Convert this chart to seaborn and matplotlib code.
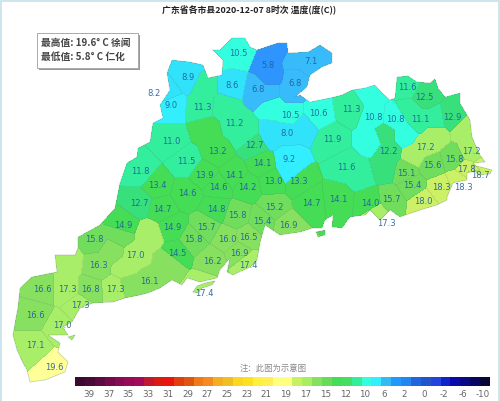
import numpy as np
import matplotlib
matplotlib.use('Agg')
import matplotlib.pyplot as plt
from matplotlib.colors import ListedColormap
from matplotlib.path import Path
from matplotlib.patches import Rectangle
import seaborn as sns

plt.rcParams['font.family'] = ['Noto Sans CJK SC', 'DejaVu Sans']

# valores de cada condado y donde va su etiqueta (pixeles del mapa)
valores = [10.5, 5.8, 7.1, 8.9, 8.6, 6.8, 6.8, 8.2, 9.0, 11.3, 11.2, 10.5, 10.6, 11.3, 10.8, 10.8,
           11.6, 12.5, 11.1, 12.9, 8.0, 12.7, 11.9, 12.2, 17.2, 17.2, 11.0, 11.5, 13.2, 9.2, 14.1,
           11.6, 15.8, 15.6, 15.1, 17.8, 18.7, 18.3, 18.3, 15.4, 18.0, 11.8, 13.4, 13.9, 14.1, 14.6,
           14.6, 14.2, 13.0, 13.3, 14.7, 14.1, 14.0, 15.7, 12.7, 14.7, 14.8, 15.8, 15.2, 15.4, 16.9,
           14.9, 14.9, 15.7, 15.8, 15.8, 16.0, 16.5, 14.5, 16.9, 16.2, 17.0, 16.3, 17.4, 16.1, 17.4,
           17.3, 16.6, 16.8, 17.3, 17.3, 17.3, 16.6, 17.0, 17.1, 19.6]
etiqueta_x = [238, 268, 311, 188, 232, 258, 295, 154, 171, 202, 234, 290, 318, 351, 373, 395,
              407, 424, 420, 452, 287, 254, 332, 388, 425, 471, 171, 186, 217, 289, 262,
              346, 454, 432, 406, 466, 480, 463, 441, 412, 423, 140, 157, 204, 234, 187,
              218, 247, 273, 298, 311, 338, 370, 391, 139, 162, 216, 237, 274, 262, 288,
              123, 172, 206, 94, 193, 227, 248, 177, 239, 212, 135, 98, 248, 149, 204,
              67, 42, 90, 115, 80, 386, 35, 62, 35, 54]
etiqueta_y = [54, 66, 62, 77, 85, 90, 83, 93, 106, 107, 124, 115, 114, 109, 117, 119,
              88, 97, 120, 117, 133, 146, 140, 151, 147, 151, 141, 162, 152, 159, 164,
              167, 159, 165, 173, 170, 176, 187, 188, 186, 202, 171, 186, 175, 175, 194,
              187, 187, 182, 182, 203, 200, 203, 200, 203, 209, 209, 216, 207, 221, 226,
              225, 228, 227, 240, 240, 239, 237, 253, 253, 261, 256, 266, 266, 282, 293,
              289, 289, 290, 289, 306, 224, 315, 325, 346, 367]
# etiquetas que quedan fuera de su condado: semilla movida
semillas_movidas = {7: (166, 93), 36: (482, 170), 37: (459, 180), 75: (204, 286),
                    73: (247, 263), 81: (376, 213), 83: (58, 328)}
# puntos extra para dar forma a los condados alargados
semillas_extra = {0: [(240, 42), (222, 55)], 1: [(278, 50), (270, 78)], 2: [(325, 55), (295, 58)],
                  3: [(190, 66)], 5: [(270, 92)], 6: [(290, 92)], 9: [(205, 85)],
                  10: [(225, 108), (245, 135)], 11: [(275, 107)], 14: [(372, 95), (372, 140)],
                  15: [(405, 135)], 18: [(435, 120), (410, 110)], 20: [(272, 135), (303, 127)],
                  23: [(385, 135), (385, 168)], 24: [(435, 135), (415, 155)], 25: [(465, 130)],
                  28: [(208, 130)], 29: [(290, 172)], 31: [(360, 175)], 64: [(120, 235)],
                  71: [(150, 235), (125, 268)], 72: [(112, 252)], 74: [(170, 262), (130, 285)],
                  76: [(68, 262)]}

# contorno de la provincia
contorno = [(213, 50), (220, 50), (232, 38), (245, 38), (250, 47), (257, 50), (278, 43), (287, 43), (288, 53),
            (308, 52), (320, 45), (332, 53), (332, 63), (322, 67), (310, 75), (307, 87), (295, 97), (300, 95),
            (310, 102), (330, 98), (342, 95), (352, 90), (365, 88), (375, 85), (382, 93), (390, 100), (395, 98),
            (397, 77), (408, 76), (417, 82), (430, 83), (435, 79), (438, 88), (445, 97), (460, 93), (460, 103),
            (470, 120), (472, 137), (480, 155), (485, 162), (473, 163), (480, 170), (467, 173), (467, 180),
            (453, 183), (447, 197), (447, 200), (437, 205), (420, 210), (400, 217), (390, 210), (380, 220),
            (370, 210), (365, 215), (350, 217), (342, 228), (332, 227), (333, 215), (325, 220), (322, 228),
            (313, 228), (300, 232), (280, 235), (265, 225), (260, 243), (257, 260), (250, 267), (233, 275),
            (227, 272), (230, 258), (220, 270), (217, 278), (200, 282), (187, 278), (182, 285), (172, 280),
            (160, 288), (148, 293), (140, 295), (125, 298), (113, 302), (93, 303), (80, 308), (72, 322),
            (63, 327), (68, 335), (48, 335), (60, 343), (58, 352), (68, 362), (65, 372), (45, 380), (30, 382),
            (27, 370), (23, 363), (17, 350), (13, 335), (15, 323), (18, 307), (20, 288), (32, 277), (57, 272),
            (55, 255), (75, 255), (78, 248), (78, 237), (100, 225), (115, 208), (120, 183), (127, 163),
            (137, 157), (138, 148), (150, 142), (153, 123), (163, 118), (160, 105), (170, 90), (167, 73),
            (172, 60), (190, 62), (203, 65), (208, 78), (222, 75), (223, 60)]
islas = [[(193, 292), (197, 286), (205, 283), (215, 281), (212, 285), (202, 288), (198, 293)],
         [(68, 337), (75, 335), (72, 340)],
         [(316, 232), (325, 230), (325, 235), (318, 237)],
         [(472, 165), (485, 168), (492, 170), (490, 174), (478, 175)]]

# escala de color del mapa
limites = [6, 8, 9, 10, 11, 12, 13, 15, 16, 17, 17.7, 19]
colores_mapa = ['#2e95ff', '#38bbfa', '#30e2fa', '#33eeff', '#33ffe0', '#33ee9c', '#38e07c', '#44dd55',
                '#70dd5c', '#88e060', '#a8ee68', '#ccf066', '#ffff99']

# leyenda
colores_barra = ['#3a0a30', '#4a0a38', '#5e0a42', '#720a4c', '#860a55', '#960a58', '#a40a58', '#c01830',
                 '#dc1a14', '#e81510', '#e04010', '#e05510', '#f07a18', '#f58a20', '#f5ae20', '#f0c020',
                 '#fad820', '#fde020', '#fff040', '#ffee55', '#ffff80', '#ffff80', '#c8f060', '#a8ee60',
                 '#88e060', '#66dd55', '#44dd55', '#44dd66', '#33ee99', '#33ffdd', '#33eeff', '#33bbee',
                 '#2299ff', '#2288ee', '#2266dd', '#2255cc', '#2244dd', '#1122cc', '#0a0aaa', '#080888',
                 '#060660', '#05053a']
ticks_barra = ['39', '37', '35', '33', '31', '29', '27', '25', '23', '21', '19',
               '17', '15', '12', '10', '6', '2', '0', '-2', '-6', '-10']

ancho, alto = 500, 401
fig = plt.figure(figsize=(5, 4.01), dpi=100, facecolor='white')
ax = fig.add_axes([0, 0, 1, 1])

# cada pixel toma el condado mas cercano, solo dentro del contorno
xx, yy = np.meshgrid(np.arange(ancho) + 0.5, np.arange(alto) + 0.5)
puntos = np.column_stack([xx.ravel(), yy.ravel()])
dentro = Path(contorno).contains_points(puntos)
for isla in islas:
    dentro |= Path(isla).contains_points(puntos)
dentro = dentro.reshape(alto, ancho)

sx = [float(x) for x in etiqueta_x]
sy = [float(y) for y in etiqueta_y]
duenos = list(range(len(valores)))
for i, (a, b) in semillas_movidas.items():
    sx[i], sy[i] = a, b
for i, extras in semillas_extra.items():
    for a, b in extras:
        sx.append(a)
        sy.append(b)
        duenos.append(i)
sx, sy, duenos = np.array(sx), np.array(sy), np.array(duenos)
dist = (xx[..., None] - sx) ** 2 + (yy[..., None] - sy) ** 2
condado = duenos[dist.argmin(axis=2)]
niveles = np.digitize(np.array(valores), limites)[condado]

sns.heatmap(niveles, mask=~dentro, cmap=ListedColormap(colores_mapa), vmin=-0.5, vmax=len(colores_mapa) - 0.5,
            cbar=False, xticklabels=False, yticklabels=False, ax=ax)

# lineas finas entre condados
borde = np.zeros_like(dentro)
borde[:-1, :] |= condado[:-1, :] != condado[1:, :]
borde[:, :-1] |= condado[:, :-1] != condado[:, 1:]
sns.heatmap(borde.astype(float), mask=~(borde & dentro), cmap=ListedColormap(['#607060']), alpha=0.13,
            cbar=False, xticklabels=False, yticklabels=False, ax=ax)

for parte in [contorno] + islas:
    xs, ys = zip(*(parte + parte[:1]))
    ax.plot(xs, ys, color='#70907a', lw=0.5, alpha=0.45)

for v, x, y in zip(valores, etiqueta_x, etiqueta_y):
    ax.text(x, y, f'{v:.1f}', fontsize=6, color='#1f5f9c', ha='center', va='center',
            family='DejaVu Sans', alpha=0.9)

ax.set_xlim(0, ancho)
ax.set_ylim(alto, 0)
ax.axis('off')

ax.text(249.5, 9, '广东省各市县2020-12-07 8时次 温度(度(C))', fontsize=6.4, fontweight='bold',
        color='#222222', ha='center', va='center')
ax.text(273, 368, '注：此图为示意图', fontsize=6, color='#888888', ha='center', va='center')

# cuadro de maximo y minimo
ax.add_patch(Rectangle((39, 35), 101, 35, fc='#999999', ec='none', zorder=4))
ax.add_patch(Rectangle((37, 33), 101, 35, fc='white', ec='#aaaaaa', lw=0.7, zorder=5))
ax.text(41, 43, '最高值: 19.6° C 徐闻', fontsize=7, fontweight='bold', color='#444444', va='center', zorder=6)
ax.text(41, 57, '最低值: 5.8° C 仁化', fontsize=7, fontweight='bold', color='#444444', va='center', zorder=6)

# marco azul claro
ax.add_patch(Rectangle((0, 0), 1.5, alto, fc='#cde6ee', ec='none'))
ax.add_patch(Rectangle((497.5, 0), 2.5, alto, fc='#cde6ee', ec='none'))
ax.add_patch(Rectangle((0, 0), ancho, 1.5, fc='#cde6ee', ec='none'))

cax = fig.add_axes([75 / ancho, 1 - 386 / alto, 415 / ancho, 9 / alto])
n = len(colores_barra)
sns.heatmap(np.arange(n)[None, :], cmap=ListedColormap(colores_barra), cbar=False, ax=cax,
            xticklabels=False, yticklabels=False)
paso = (483 - 89) / (len(ticks_barra) - 1) * n / 415
cax.set_xticks((89 - 75) * n / 415 + paso * np.arange(len(ticks_barra)))
cax.set_xticklabels(ticks_barra, fontsize=6.3, color='#666666', family='DejaVu Sans', rotation=0)
cax.tick_params(axis='x', length=0, pad=3)
cax.set_yticks([])

fig.savefig('out.png', dpi=100)
